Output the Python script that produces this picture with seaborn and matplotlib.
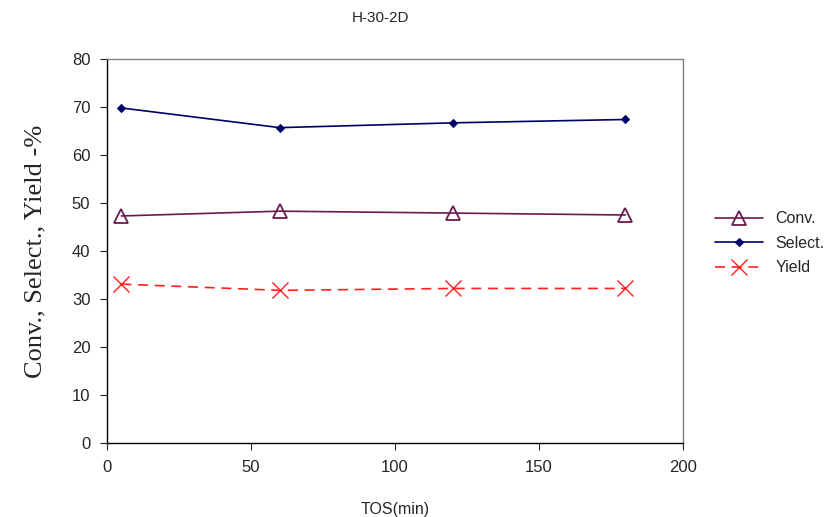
import numpy as np
import pandas as pd
import seaborn as sns
import matplotlib.pyplot as plt

# time on stream, min
tos = [5, 60, 120, 180]
conv = [47.3, 48.3, 47.9, 47.5]
select = [69.8, 65.7, 66.7, 67.4]
yld = [33.1, 31.8, 32.2, 32.2]

df = pd.DataFrame({"TOS": tos, "Conv.": conv, "Select.": select, "Yield": yld})

sns.set_style("white")
plt.rcParams['font.family'] = ['Liberation Sans', 'DejaVu Sans']

fig = plt.figure(figsize=(8.3, 5.17), dpi=100)
ax = fig.add_axes([107/830, 74/517, 576/830, 384/517])

# Conv. - open triangles
sns.lineplot(data=df, x="TOS", y="Conv.", ax=ax, color="#6b1a4f", linewidth=1.2,
             marker="^", markersize=10, markerfacecolor="none",
             markeredgecolor="#6b1a4f", markeredgewidth=1.3, label="Conv.")
# Select. - small diamonds
sns.lineplot(data=df, x="TOS", y="Select.", ax=ax, color="#000066", linewidth=1.2,
             marker="D", markersize=4, markeredgecolor="#000066", label="Select.")
# Yield - dashed with crosses
sns.lineplot(data=df, x="TOS", y="Yield", ax=ax, color="#ff2020", linewidth=1.2,
             linestyle=(0, (6, 4)), marker="x", markersize=12, markeredgewidth=1.0,
             markeredgecolor="#ff2020", label="Yield")

ax.set_xlim(0, 200)
ax.set_ylim(0, 80)
ax.set_xticks(np.arange(0, 201, 50))
ax.set_yticks(np.arange(0, 81, 10))
ax.tick_params(direction="out", length=5, labelsize=12, left=True, bottom=True, pad=7)
for s in ax.spines.values():
    s.set_color("#808080")
    s.set_linewidth(1)
ax.spines["left"].set_color("black")
ax.spines["bottom"].set_color("black")

ax.set_xlabel("TOS(min)", fontsize=11.5, labelpad=20)
ax.set_ylabel("Conv., Select., Yield -%", fontsize=19, family="Liberation Serif", labelpad=18)
fig.text(380/830, 1 - 18/517, "H-30-2D", ha="center", va="center", fontsize=11)

ax.legend(loc="center left", bbox_to_anchor=(1.03, 0.52), frameon=False, fontsize=11.5,
          handlelength=3, labelspacing=0.6)

fig.savefig("out.png", dpi=100)
